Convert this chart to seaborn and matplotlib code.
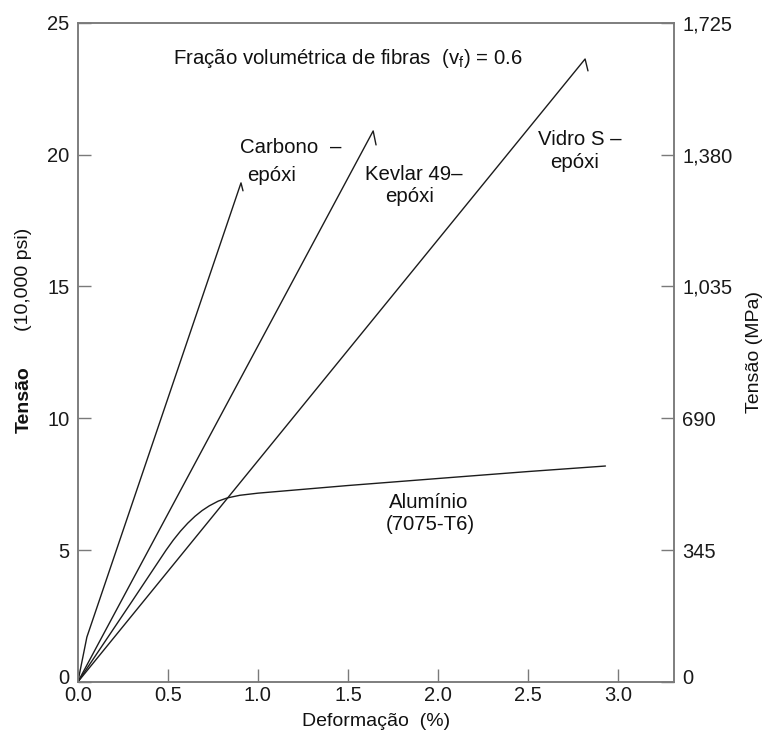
import numpy as np
import pandas as pd
import matplotlib
matplotlib.use("Agg")
import matplotlib.pyplot as plt
import matplotlib.transforms as mtransforms
import seaborn as sns

# ── data (strain %, stress in 10,000 psi) ──
carbono_x = [0.0, 0.05, 0.906, 0.917]
carbono_y = [0.0, 1.7, 18.93, 18.63]

kevlar_x = [0.0, 1.64, 1.656]
kevlar_y = [0.0, 20.9, 20.37]

vidro_x = [0.0, 2.817, 2.833]
vidro_y = [0.0, 23.63, 23.18]

aluminio_x = [0.0, 0.30, 0.49, 0.53, 0.57, 0.61, 0.65, 0.69, 0.73, 0.78, 0.83, 0.90, 1.00, 1.50, 2.12, 2.50, 2.93]
aluminio_y = [0.0, 3.05, 5.00, 5.38, 5.72, 6.02, 6.28, 6.50, 6.68, 6.86, 6.98, 7.08, 7.16, 7.45, 7.78, 7.98, 8.19]

x_ticks = [0.0, 0.5, 1.0, 1.5, 2.0, 2.5, 3.0]
psi_ticks = [0, 5, 10, 15, 20, 25]
mpa_ticks = [0, 345, 690, 1035, 1380, 1725]

sns.set_style("white")
plt.rcParams["font.family"] = ["Liberation Sans", "DejaVu Sans"]

LINE = "#1c1c1c"
SPINE = "#7a7a7a"
TXT = "#111111"

fig = plt.figure(figsize=(7.71, 7.38), dpi=100)
ax = fig.add_axes([0.101, 0.076, 0.773, 0.893])

for xs, ys in [(carbono_x, carbono_y), (kevlar_x, kevlar_y),
               (vidro_x, vidro_y), (aluminio_x, aluminio_y)]:
    sns.lineplot(x=xs, y=ys, ax=ax, color=LINE, linewidth=1.0,
                 sort=False, estimator=None)

ax.set_xlim(0, 3.31)
ax.set_ylim(0, 25)
ax.set_xticks(x_ticks)
ax.set_xticklabels([f"{v:.1f}" for v in x_ticks])
ax.set_yticks(psi_ticks)

ax2 = ax.twinx()
ax2.set_ylim(0, 1725)
ax2.set_yticks(mpa_ticks)
ax2.set_yticklabels([f"{v:,}" for v in mpa_ticks])

for a in (ax, ax2):
    for s in a.spines.values():
        s.set_color(SPINE)
        s.set_linewidth(1.1)
    a.tick_params(direction="in", length=9.5, width=1.0, color=SPINE,
                  labelsize=14.5, labelcolor="#1a1a1a", pad=6)
ax.tick_params(axis="x", pad=3)
ax.tick_params(axis="y", left=True, right=False)
ax.tick_params(axis="x", bottom=True, top=False)
ax2.tick_params(axis="y", right=True, left=False)

# the "0" labels sit a little above the corner, clear of "0.0"
lift = mtransforms.ScaledTranslation(0, 5 / 100, fig.dpi_scale_trans)
for lab in (ax.get_yticklabels()[0], ax2.get_yticklabels()[0]):
    lab.set_transform(lab.get_transform() + lift)

ax.set_xlabel("Deformação  (%)", fontsize=14, labelpad=6, color=TXT)
ax.set_ylabel("")
ax2.set_ylabel("Tensão (MPa)", fontsize=14, labelpad=10, color=TXT)

# left label: bold "Tensão" with the unit set apart, as in the original
fig.text(24 / 771, 1 - 400 / 738, "Tensão", rotation=90, fontsize=14,
         fontweight="bold", ha="center", va="center", color=TXT)
fig.text(24 / 771, 1 - 279 / 738, "(10,000 psi)", rotation=90, fontsize=14,
         ha="center", va="center", color=TXT)

fs = 14.7
ax.text(0.528, 23.63, r"Fração volumétrica de fibras  (v$_\mathregular{f}$) = 0.6",
        fontsize=fs, ha="left", va="center", color=TXT)
ax.text(1.117, 20.26, "Carbono", fontsize=fs, ha="center", va="center", color=TXT)
ax.text(1.43, 20.3, "–", fontsize=fs, ha="center", va="center", color=TXT)
ax.text(1.078, 19.2, "epóxi", fontsize=fs, ha="center", va="center", color=TXT)
ax.text(1.865, 19.23, "Kevlar 49–", fontsize=fs, ha="center", va="center", color=TXT)
ax.text(1.84, 18.4, "epóxi", fontsize=fs, ha="center", va="center", color=TXT)
ax.text(2.79, 20.56, "Vidro S –", fontsize=fs, ha="center", va="center", color=TXT)
ax.text(2.756, 19.69, "epóxi", fontsize=fs, ha="center", va="center", color=TXT)
ax.text(1.95, 6.79, "Alumínio", fontsize=fs, ha="center", va="center", color=TXT)
ax.text(1.96, 5.96, "(7075-T6)", fontsize=fs, ha="center", va="center", color=TXT)

fig.savefig("out.png", dpi=100)
